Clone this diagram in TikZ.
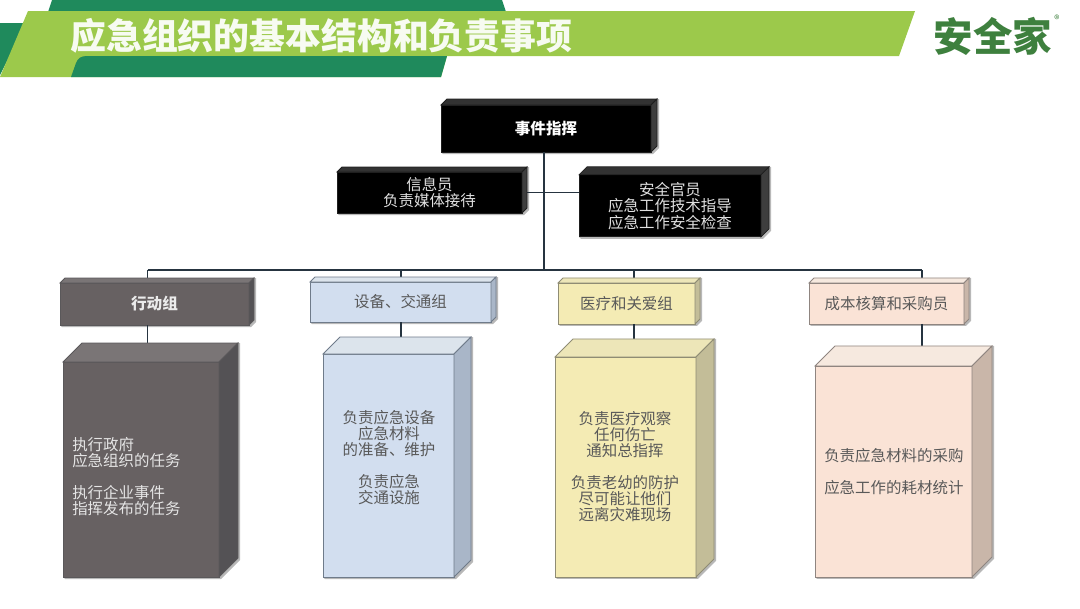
\documentclass[tikz,border=0pt]{standalone}
\usepackage{fontspec}
\setmainfont{Noto Sans CJK SC}
\usetikzlibrary{backgrounds,positioning,calc}
\definecolor{bannerlight}{RGB}{156,201,75}
\definecolor{bannerdark}{RGB}{31,138,92}
\definecolor{logogreen}{RGB}{62,128,62}
\definecolor{linkblue}{RGB}{38,52,64}
\definecolor{inkfront}{RGB}{0,0,0}
\definecolor{inktop}{RGB}{50,50,50}
\definecolor{inkside}{RGB}{62,62,62}
\definecolor{inkedge}{RGB}{30,30,30}
\definecolor{slatefront}{RGB}{103,97,98}
\definecolor{slatetop}{RGB}{122,117,118}
\definecolor{slateside}{RGB}{84,82,85}
\definecolor{slateedge}{RGB}{90,88,90}
\definecolor{skyfront}{RGB}{210,222,239}
\definecolor{skytop}{RGB}{220,228,236}
\definecolor{skyside}{RGB}{169,182,200}
\definecolor{skyedge}{RGB}{111,123,138}
\definecolor{sandfront}{RGB}{244,235,180}
\definecolor{sandtop}{RGB}{237,230,184}
\definecolor{sandside}{RGB}{195,189,152}
\definecolor{sandedge}{RGB}{143,140,116}
\definecolor{peachfront}{RGB}{250,227,214}
\definecolor{peachtop}{RGB}{246,233,223}
\definecolor{peachside}{RGB}{201,182,169}
\definecolor{peachedge}{RGB}{143,133,128}
\tikzset{
  boxfront/.style={fill=#1front,draw=#1edge,line width=0.6pt,outer sep=0pt,inner sep=0pt,align=center},
  bodytext/.style={font=\fontsize{11.6}{12}\selectfont,align=center,inner sep=0pt},
  link/.style={draw=linkblue,line width=1pt},
}
% side and top faces of a box, drop shadow behind it
\newcommand{\boxdepth}[3]{
  \begin{scope}[on background layer]
    \fill[black!28] ($(#1.south west)+(2,2)$) -- ($(#1.south east)+(2,2)$)
      -- ($(#1.south east)+(#2+2,-#2+2)$) -- ($(#1.north east)+(#2+2,-#2)$)
      -- ($(#1.north east)+(#2,-#2)$) -- (#1.south west) -- cycle;
  \end{scope}
  \filldraw[fill=#3top,draw=#3edge,line width=0.6pt] (#1.north west) -- (#1.north east)
    -- ($(#1.north east)+(#2,-#2)$) -- ($(#1.north west)+(#2,-#2)$) -- cycle;
  \filldraw[fill=#3side,draw=#3edge,line width=0.6pt] (#1.north east) -- (#1.south east)
    -- ($(#1.south east)+(#2,-#2)$) -- ($(#1.north east)+(#2,-#2)$) -- cycle;
}
\begin{document}
\begin{tikzpicture}[x=0.75pt,y=-0.75pt]
  \useasboundingbox (0,0) rectangle (1080,608);
  % banner
  \fill[bannerdark] (52,0) -- (502,0) -- (506,12) -- (48,12) -- cycle;
  \fill[bannerdark] (0,23) -- (26,23) -- (0,75) -- cycle;
  \fill[bannerlight] (28,11) -- (915,11) -- (899,56) -- (447,56) -- (441,77) -- (0,77) -- cycle;
  \fill[bannerdark] (71,77) -- (76,63) .. controls (78,58) and (81,56) .. (87,56)
    -- (447,56) -- (441,77) -- cycle;
  \node[font=\fontsize{26.9}{30}\selectfont\bfseries,text=white!92!bannerlight,anchor=west,inner sep=0pt] (title)
    at (70,36) {应急组织的基本结构和负责事项};
  \node[font=\fontsize{29.6}{32}\selectfont\bfseries,text=logogreen,inner sep=0pt] (logo) at (993,36) {安全家};
  \node[font=\fontsize{8}{9}\selectfont,text=logogreen,inner sep=0pt] (logomark) at (1057,19) {®};

  % command row
  \node[boxfront=ink,minimum width=157.5pt,minimum height=35.25pt,
        font=\fontsize{11.7}{12}\selectfont\bfseries,text=white] (command) at (546,128.5) {事件指挥};
  \node[boxfront=ink,minimum width=138.75pt,minimum height=30.75pt,
        font=\fontsize{11.6}{12.5}\selectfont,text=black!12] (info) at (429.5,192.5)
    {信息员\\负责媒体接待};
  \node[boxfront=ink,minimum width=136.5pt,minimum height=46.5pt,
        font=\fontsize{11.6}{12.5}\selectfont,text=black!12,right=42.75pt of info,yshift=-10pt] (safety)
    {安全官员\\应急工作技术指导\\应急工作安全检查};

  % group row
  \node[boxfront=slate,minimum width=141.75pt,minimum height=31.5pt,
        font=\fontsize{11.7}{12}\selectfont\bfseries,text=white!92!black] (act) at (154.5,304) {行动组};
  \node[boxfront=sky,minimum width=135.75pt,minimum height=30pt,
        font=\fontsize{11.6}{12}\selectfont,text=black!65,right=45.75pt of act,yshift=1.5pt] (equip) {设备、交通组};
  \node[boxfront=sand,minimum width=102.75pt,minimum height=30.75pt,
        font=\fontsize{11.6}{12}\selectfont,text=black!65,right=50.25pt of equip,yshift=-1.1pt] (med) {医疗和关爱组};
  \node[boxfront=peach,minimum width=116.25pt,minimum height=30.75pt,
        font=\fontsize{11.6}{12}\selectfont,text=black!65,right=85.5pt of med] (cost) {成本核算和采购员};

  % large boxes
  \node[boxfront=slate,minimum width=117pt,minimum height=161.25pt,below=27.75pt of act,xshift=-10.1pt] (actbody) {};
  \node[boxfront=sky,minimum width=98.25pt,minimum height=167.25pt,below=24pt of equip,xshift=-9pt] (equipbody) {};
  \node[boxfront=sand,minimum width=105.75pt,minimum height=165pt,below=24.75pt of med,xshift=-0.75pt] (medbody) {};
  \node[boxfront=peach,minimum width=117.75pt,minimum height=158.25pt,below=31.5pt of cost,xshift=5.25pt] (costbody) {};

  \node[bodytext,text=white!90!black,align=left,anchor=west] (acttext) at (72,477)
    {执行政府\\应急组织的任务\\[12pt]执行企业事件\\指挥发布的任务};
  \node[bodytext,text=black!65] (equiptext) at (389,457.5)
    {负责应急设备\\应急材料\\的准备、维护\\[12pt]负责应急\\交通设施};
  \node[bodytext,text=black!65] (medtext) at (625,466.5)
    {负责医疗观察\\任何伤亡\\通知总指挥\\[12pt]负责老幼的防护\\尽可能让他们\\远离灾难现场};
  \node[bodytext,text=black!65,align=left,anchor=west] (costtext) at (824,472)
    {负责应急材料的采购\\[12pt]应急工作的耗材统计};

  % connectors
  \coordinate (busact) at (147.5,270);
  \coordinate (busequip) at (401,270);
  \coordinate (busmid) at (544,270);
  \coordinate (busmed) at (634,270);
  \coordinate (buscost) at (922,270);
  \draw[link] (busact) -- (buscost);
  \draw[link] (command.south -| busmid) -- (busmid);
  \draw[link] (info.east) -- (info.east -| safety.west);
  \foreach \grp/\busname in {act/busact,equip/busequip,med/busmed,cost/buscost}{
    \draw[link] (\busname) -- (\busname |- \grp.north);
    \draw[link] (\busname |- \grp.south) -- (\busname |- \grp body.north);
  }

  \boxdepth{command}{6}{ink}
  \boxdepth{info}{5}{ink}
  \boxdepth{safety}{8}{ink}
  \boxdepth{act}{5}{slate}
  \boxdepth{equip}{5}{sky}
  \boxdepth{med}{5}{sand}
  \boxdepth{cost}{5}{peach}
  \boxdepth{actbody}{19}{slate}
  \boxdepth{equipbody}{17}{sky}
  \boxdepth{medbody}{18}{sand}
  \boxdepth{costbody}{20}{peach}
\end{tikzpicture}
\end{document}
